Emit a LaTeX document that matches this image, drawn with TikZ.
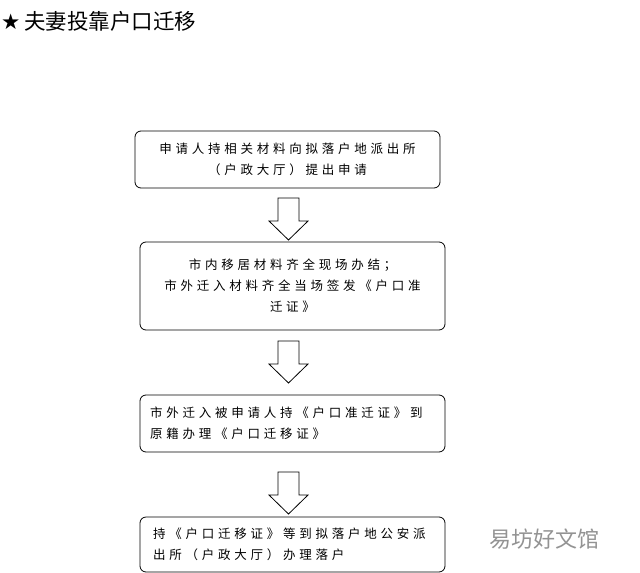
\documentclass[tikz,border=0pt]{standalone}
\usepackage{fontspec}
\setmainfont{Noto Sans CJK SC}
\newfontfamily\cjk[LetterSpace=30]{Noto Sans CJK SC}
\newfontfamily\djv{DejaVu Sans}
\begin{document}
\begin{tikzpicture}[x=1pt,y=-1pt,
  box/.style={draw,rounded corners=6pt,line width=0.8pt,inner sep=0pt},
  txt/.style={font=\cjk\fontsize{12.5}{21}\selectfont,text width=300pt},
  harrow/.style={draw,line width=0.8pt,fill=white}]
\useasboundingbox (0,0) rectangle (640,573);
\node[anchor=west,inner sep=0pt,font=\fontsize{21.5}{24}\selectfont] (title) at (1,21) {{\djv ★}\,夫妻投靠户口迁移};
\draw[box] (135,131) rectangle (440,188);
\node[txt,align=center] (t1) at (287.5,159.5) {申请人持相关材料向拟落户地派出所\\（户政大厅）提出申请};
\draw[box] (140,242) rectangle (445,330);
\node[txt,align=center] (t2) at (292.5,286) {市内移居材料齐全现场办结；\\市外迁入材料齐全当场签发《户口准\\迁证》};
\draw[box] (140,395) rectangle (445,452);
\node[txt,align=left,text width=290pt] (t3) at (295,423.5) {市外迁入被申请人持《户口准迁证》到\\原籍办理《户口迁移证》};
\draw[box] (140,517) rectangle (445,572);
\node[txt,align=left,text width=290pt] (t4) at (298,544.5) {持《户口迁移证》等到拟落户地公安派\\出所（户政大厅）办理落户};
\foreach \y in {198,341,472}{
  \draw[harrow] (278,\y) -- (299,\y) -- (299,\y+23) -- (308,\y+23) -- (288.5,\y+42) -- (269,\y+23) -- (278,\y+23) -- cycle;
}
\node[anchor=west,text=gray!85,font=\fontsize{22}{24}\selectfont] (wm) at (486,539) {易坊好文馆};
\end{tikzpicture}
\end{document}
